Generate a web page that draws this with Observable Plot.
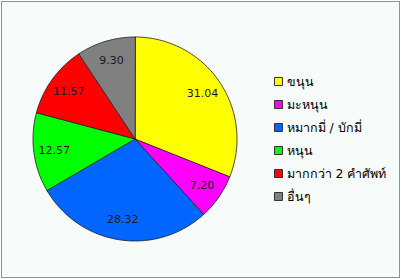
<!DOCTYPE html>
<html>
<head>
<meta charset="utf-8">
<script src="https://cdn.jsdelivr.net/npm/d3@7"></script>
<script src="https://cdn.jsdelivr.net/npm/@observablehq/plot@0.6"></script>
<style>
  html, body { margin: 0; padding: 0; background: #ffffff; }
  #wrap { position: relative; width: 401px; height: 279px; }
  #frame { position: absolute; left: 1px; top: 1px; width: 397px; height: 275px; border: 1px solid #8c9490; background: #f7fbf9; }
  #wrap svg { position: absolute; left: 0; top: 0; }
</style>
</head>
<body>
<div id="wrap"><div id="frame"></div></div>
<script>
const categories = ["ขนุน", "มะหนุน", "หมากมี่ / บักมี่", "หนุน", "มากกว่า 2 คำศัพท์", "อื่นๆ"];
const values = [31.04, 7.20, 28.32, 12.57, 11.57, 9.30];
const colors = ["#ffff00", "#ff00ff", "#0066ff", "#00ff00", "#ff0000", "#808080"];

const arcs = d3.pie().sort(null).value(d => d)(values);

// slice outlines in unit-circle coordinates (y grows downward, angle clockwise from top)
const polys = [];
const labels = [];
arcs.forEach((a, i) => {
  const cat = categories[i];
  polys.push({cat, x: 0, y: 0});
  const n = Math.max(2, Math.ceil((a.endAngle - a.startAngle) / (Math.PI / 180)));
  for (let k = 0; k <= n; k++) {
    const t = a.startAngle + (a.endAngle - a.startAngle) * k / n;
    polys.push({cat, x: Math.sin(t), y: -Math.cos(t)});
  }
  const m = (a.startAngle + a.endAngle) / 2;
  labels.push({cat, x: 0.8 * Math.sin(m), y: -0.8 * Math.cos(m), text: values[i].toFixed(2)});
});

const cx = 134.5, cy = 138.5, r = 102;

const pie = Plot.plot({
  width: 401,
  height: 279,
  margin: 0,
  style: {background: "transparent", fontFamily: "DejaVu Sans, sans-serif"},
  x: {domain: [-1, 1], range: [cx - r, cx + r], axis: null},
  y: {domain: [-1, 1], range: [cy - r, cy + r], axis: null},
  color: {domain: categories, range: colors},
  marks: [
    Plot.line(polys, {x: "x", y: "y", z: "cat", fill: "cat", stroke: "#1a1a1a", strokeWidth: 0.8, curve: "linear-closed"}),
    Plot.text(labels, {x: "x", y: "y", text: "text", fill: "#1a1a1a", fontSize: 11})
  ]
});

const legend = Plot.plot({
  width: 401,
  height: 279,
  marginLeft: 278,
  marginRight: 0,
  marginTop: 0,
  marginBottom: 0,
  style: {background: "transparent", fontFamily: "DejaVu Sans, sans-serif"},
  y: {type: "point", domain: categories, range: [79, 197.5], padding: 0, axis: null},
  color: {domain: categories, range: colors},
  marks: [
    Plot.dot(categories, {y: d => d, frameAnchor: "left", symbol: "square", r: 4.5, fill: d => d, stroke: "#333333", strokeWidth: 1}),
    Plot.text(categories, {y: d => d, text: d => d, frameAnchor: "left", dx: 8, textAnchor: "start", fill: "#000000", fontSize: 12.5})
  ]
});

const wrap = document.getElementById("wrap");
wrap.appendChild(pie);
wrap.appendChild(legend);
</script>
</body>
</html>
